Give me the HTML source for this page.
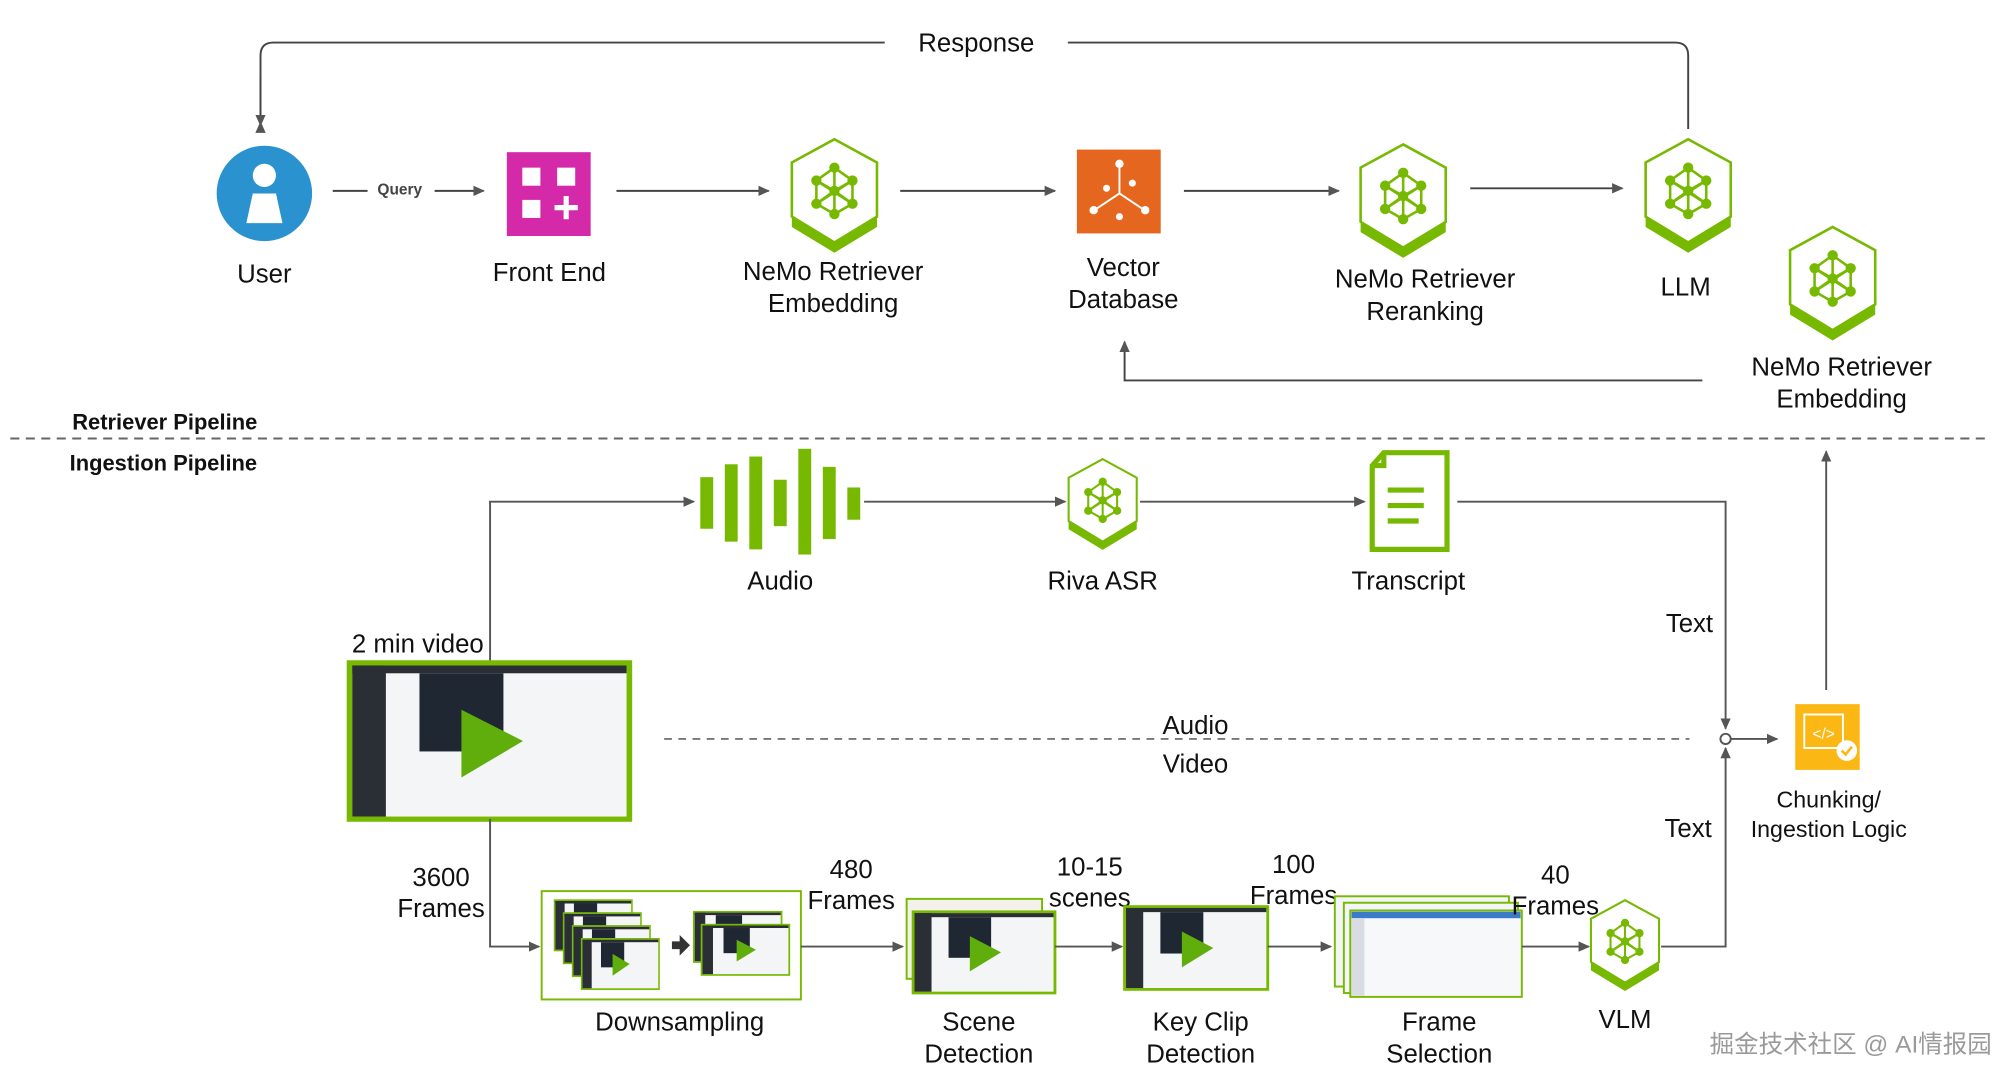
<!DOCTYPE html>
<html><head><meta charset="utf-8"><style>
html,body{margin:0;padding:0;background:#fff;}
svg{display:block;}
text{font-family:"Liberation Sans","Noto Sans CJK SC",sans-serif;fill:#111;}
</style></head><body>
<svg width="1999" height="1074" viewBox="0 0 1550 832.8" preserveAspectRatio="none" xmlns="http://www.w3.org/2000/svg">
<defs>
<marker id="ar" markerWidth="10" markerHeight="10" refX="8" refY="5" orient="auto" markerUnits="userSpaceOnUse">
<path d="M0,1 L9,5 L0,9 Z" fill="#555"/></marker>
<g id="hex">
<path d="M0,-40 L33,-22 L33,20 L0,40 L-33,20 L-33,-22 Z" fill="none" stroke="#76b900" stroke-width="2"/>
<path d="M-33,20 L0,40 L33,20 L33,28 L0,48 L-33,28 Z" fill="#76b900"/>
<g stroke="#76b900" stroke-width="2" fill="none">
<path d="M0,-18 L-14,-8 L-14,10 L0,18 L14,10 L14,-8 Z M0,-18 L0,18 M-14,-8 L14,10 M14,-8 L-14,10 M-14,-8 L0,0 L14,-8 M-14,10 L0,0 L14,10"/>
</g>
<g fill="#76b900"><circle cx="0" cy="-18" r="4"/><circle cx="-14" cy="-8" r="4"/><circle cx="14" cy="-8" r="4"/><circle cx="-14" cy="10" r="4"/><circle cx="14" cy="10" r="4"/><circle cx="0" cy="18" r="4"/><circle cx="0" cy="0" r="4"/></g>
</g>
<g id="thumb">
<rect x="0" y="0" width="100" height="60" fill="#f4f5f6" stroke="#76b900" stroke-width="2"/>
<rect x="1" y="1" width="12" height="58" fill="#2a2f36"/>
<rect x="25" y="4" width="30" height="30" fill="#1f2733"/>
<rect x="1" y="1" width="98" height="3" fill="#2a2f36"/>
<path d="M40,18 L62,30 L40,44 Z" fill="#5fae0c"/>
</g>
</defs>

<!-- Response loop -->
<path d="M202,95 L202,43 Q202,33 212,33 L686,33" fill="none" stroke="#444" stroke-width="1.5" marker-start="url(#ar)"/>
<path d="M202,60 L202,97" stroke="#444" stroke-width="1.5" marker-end="url(#ar)"/>
<path d="M828,33 L1299,33 Q1309,33 1309,43 L1309,100" fill="none" stroke="#444" stroke-width="1.5"/>
<text x="757" y="40" font-size="20" text-anchor="middle">Response</text>

<!-- User -->
<circle cx="205" cy="150" r="37" fill="#2a93cf"/>
<circle cx="205" cy="136" r="9" fill="#fff"/>
<path d="M196,150 L214,150 L219,173 L191,173 Z" fill="#fff"/>
<text x="205" y="219" font-size="20" text-anchor="middle">User</text>
<line x1="258" y1="148" x2="285" y2="148" stroke="#444" stroke-width="1.5"/>
<text x="310" y="151" font-size="12" font-weight="bold" text-anchor="middle" style="fill:#444">Query</text>
<line x1="337" y1="148" x2="375" y2="148" stroke="#444" stroke-width="1.5" marker-end="url(#ar)"/>

<!-- Front End -->
<rect x="393" y="118" width="65" height="65" fill="#d42aa9"/>
<rect x="405" y="130" width="14" height="14" fill="#fff"/><rect x="432" y="130" width="14" height="14" fill="#fff"/>
<rect x="405" y="155" width="14" height="14" fill="#fff"/>
<path d="M439,152 v18 M430,161 h18" stroke="#fff" stroke-width="4"/>
<text x="426" y="218" font-size="20" text-anchor="middle">Front End</text>
<line x1="478" y1="148" x2="596" y2="148" stroke="#444" stroke-width="1.5" marker-end="url(#ar)"/>

<use href="#hex" transform="translate(647,148)"/>
<text x="646" y="217" font-size="20" text-anchor="middle">NeMo Retriever</text>
<text x="646" y="242" font-size="20" text-anchor="middle">Embedding</text>
<line x1="698" y1="148" x2="818" y2="148" stroke="#444" stroke-width="1.5" marker-end="url(#ar)"/>

<!-- Vector DB -->
<rect x="835" y="116" width="65" height="65" fill="#e5661f"/>
<g stroke="#fff" stroke-width="1.5" fill="#fff"><line x1="868" y1="128" x2="868" y2="150"/><line x1="868" y1="150" x2="850" y2="162"/><line x1="868" y1="150" x2="886" y2="162"/>
<circle cx="868" cy="127" r="2.5"/><circle cx="848" cy="163" r="2.5"/><circle cx="888" cy="163" r="2.5"/><circle cx="858" cy="146" r="2"/><circle cx="878" cy="142" r="2"/><circle cx="868" cy="168" r="2"/></g>
<text x="871" y="214" font-size="20" text-anchor="middle">Vector</text>
<text x="871" y="239" font-size="20" text-anchor="middle">Database</text>
<line x1="918" y1="148" x2="1038" y2="148" stroke="#444" stroke-width="1.5" marker-end="url(#ar)"/>

<use href="#hex" transform="translate(1088,152)"/>
<text x="1105" y="223" font-size="20" text-anchor="middle">NeMo Retriever</text>
<text x="1105" y="248" font-size="20" text-anchor="middle">Reranking</text>
<line x1="1140" y1="146" x2="1258" y2="146" stroke="#444" stroke-width="1.5" marker-end="url(#ar)"/>

<use href="#hex" transform="translate(1309,148)"/>
<text x="1307" y="229" font-size="20" text-anchor="middle">LLM</text>

<use href="#hex" transform="translate(1421,216)"/>
<text x="1428" y="291" font-size="20" text-anchor="middle">NeMo Retriever</text>
<text x="1428" y="316" font-size="20" text-anchor="middle">Embedding</text>
<path d="M1320,295 L872,295 L872,265" fill="none" stroke="#444" stroke-width="1.5" marker-end="url(#ar)"/>

<!-- separator -->
<text x="56" y="333" font-size="17" font-weight="bold">Retriever Pipeline</text>
<line x1="8" y1="340" x2="1540" y2="340" stroke="#666" stroke-width="1.5" stroke-dasharray="7,5"/>
<text x="54" y="365" font-size="17" font-weight="bold">Ingestion Pipeline</text>

<!-- audio -->
<g fill="#76b900">
<rect x="543" y="370" width="10" height="40"/><rect x="562" y="360" width="10" height="60"/><rect x="581" y="354" width="10" height="72"/>
<rect x="600" y="372" width="10" height="36"/><rect x="619" y="348" width="10" height="82"/><rect x="638" y="362" width="10" height="56"/><rect x="657" y="378" width="10" height="25"/></g>
<text x="605" y="457" font-size="20" text-anchor="middle">Audio</text>
<path d="M380,514 L380,389 L538,389" fill="none" stroke="#555" stroke-width="1.5" marker-end="url(#ar)"/>
<line x1="670" y1="389" x2="826" y2="389" stroke="#555" stroke-width="1.5" marker-end="url(#ar)"/>
<g transform="translate(855,388) scale(0.8)"><use href="#hex"/></g>
<text x="855" y="457" font-size="20" text-anchor="middle">Riva ASR</text>
<line x1="884" y1="389" x2="1058" y2="389" stroke="#555" stroke-width="1.5" marker-end="url(#ar)"/>
<!-- transcript -->
<path d="M1073,351 L1122,351 L1122,426 L1064,426 L1064,361 Z M1064,361 L1073,361 L1073,351" fill="none" stroke="#76b900" stroke-width="4"/>
<path d="M1076,380 h28 M1076,392 h28 M1076,404 h24" stroke="#76b900" stroke-width="4"/>
<text x="1092" y="457" font-size="20" text-anchor="middle">Transcript</text>
<path d="M1130,389 L1338,389 L1338,565" fill="none" stroke="#555" stroke-width="1.5" marker-end="url(#ar)"/>
<text x="1310" y="490" font-size="20" text-anchor="middle">Text</text>

<!-- video -->
<text x="324" y="506" font-size="20" text-anchor="middle">2 min video</text>
<g transform="translate(271,514) scale(2.17,2.02)"><use href="#thumb"/></g>
<line x1="515" y1="573" x2="1310" y2="573" stroke="#777" stroke-width="1.5" stroke-dasharray="6,5"/>
<text x="927" y="569" font-size="20" text-anchor="middle">Audio</text>
<text x="927" y="599" font-size="20" text-anchor="middle">Video</text>
<circle cx="1338" cy="573" r="4" fill="#fff" stroke="#555" stroke-width="1.5"/>
<line x1="1342" y1="573" x2="1378" y2="573" stroke="#555" stroke-width="1.5" marker-end="url(#ar)"/>
<rect x="1392" y="546" width="50" height="51" fill="#fbb714"/>
<rect x="1399" y="554" width="30" height="26" fill="none" stroke="#fff" stroke-width="1.5"/>
<text x="1414" y="573" font-size="12" text-anchor="middle" style="fill:#fff">&lt;/&gt;</text>
<circle cx="1432" cy="582" r="8" fill="#fff"/><path d="M1428,582 l3,3 l5,-6" stroke="#fbb714" stroke-width="2" fill="none"/>
<text x="1418" y="626" font-size="18" text-anchor="middle">Chunking/</text>
<text x="1418" y="649" font-size="18" text-anchor="middle">Ingestion Logic</text>
<line x1="1416" y1="535" x2="1416" y2="350" stroke="#555" stroke-width="1.5" marker-end="url(#ar)"/>

<!-- video pipeline -->
<path d="M380,635 L380,734 L418,734" fill="none" stroke="#555" stroke-width="1.5" marker-end="url(#ar)"/>
<text x="342" y="687" font-size="20" text-anchor="middle">3600</text>
<text x="342" y="711" font-size="20" text-anchor="middle">Frames</text>
<rect x="420" y="691" width="201" height="84" fill="#fff" stroke="#76b900" stroke-width="1.5"/>
<g transform="translate(430,698) scale(0.6,0.65)"><use href="#thumb"/></g>
<g transform="translate(437,708) scale(0.6,0.65)"><use href="#thumb"/></g>
<g transform="translate(444,718) scale(0.6,0.65)"><use href="#thumb"/></g>
<g transform="translate(451,728) scale(0.6,0.65)"><use href="#thumb"/></g>
<path d="M521,730 h6 v-5 l8,8 l-8,8 v-5 h-6 Z" fill="#333"/>
<g transform="translate(538,707) scale(0.68,0.65)"><use href="#thumb"/></g>
<g transform="translate(544,717) scale(0.68,0.65)"><use href="#thumb"/></g>
<text x="527" y="799" font-size="20" text-anchor="middle">Downsampling</text>
<line x1="621" y1="734" x2="700" y2="734" stroke="#555" stroke-width="1.5" marker-end="url(#ar)"/>
<text x="660" y="681" font-size="20" text-anchor="middle">480</text>
<text x="660" y="705" font-size="20" text-anchor="middle">Frames</text>
<rect x="703" y="697" width="105" height="62" fill="#f4f1ea" stroke="#76b900" stroke-width="1.5"/>
<g transform="translate(708,707) scale(1.1,1.05)"><use href="#thumb"/></g>
<text x="759" y="799" font-size="20" text-anchor="middle">Scene</text>
<text x="759" y="824" font-size="20" text-anchor="middle">Detection</text>
<line x1="818" y1="734" x2="870" y2="734" stroke="#555" stroke-width="1.5" marker-end="url(#ar)"/>
<text x="845" y="679" font-size="20" text-anchor="middle">10-15</text>
<text x="845" y="703" font-size="20" text-anchor="middle">scenes</text>
<g transform="translate(872,703) scale(1.11,1.07)"><use href="#thumb"/></g>
<text x="931" y="799" font-size="20" text-anchor="middle">Key Clip</text>
<text x="931" y="824" font-size="20" text-anchor="middle">Detection</text>
<line x1="983" y1="734" x2="1032" y2="734" stroke="#555" stroke-width="1.5" marker-end="url(#ar)"/>
<text x="1003" y="677" font-size="20" text-anchor="middle">100</text>
<text x="1003" y="701" font-size="20" text-anchor="middle">Frames</text>
<rect x="1035" y="695" width="135" height="70" fill="#f3f5f8" stroke="#76b900" stroke-width="1.5"/>
<rect x="1042" y="700" width="135" height="70" fill="#f3f5f8" stroke="#76b900" stroke-width="1.5"/>
<rect x="1047" y="706" width="133" height="67" fill="#f7f8fa" stroke="#76b900" stroke-width="1.5"/>
<rect x="1048" y="707" width="131" height="5" fill="#3b7bc8"/>
<rect x="1048" y="712" width="10" height="60" fill="#d9dde3"/>
<text x="1116" y="799" font-size="20" text-anchor="middle">Frame</text>
<text x="1116" y="824" font-size="20" text-anchor="middle">Selection</text>
<line x1="1180" y1="734" x2="1232" y2="734" stroke="#555" stroke-width="1.5" marker-end="url(#ar)"/>
<text x="1206" y="685" font-size="20" text-anchor="middle">40</text>
<text x="1206" y="709" font-size="20" text-anchor="middle">Frames</text>
<g transform="translate(1260,730) scale(0.8)"><use href="#hex"/></g>
<text x="1260" y="797" font-size="20" text-anchor="middle">VLM</text>
<path d="M1288,734 L1338,734 L1338,580" fill="none" stroke="#555" stroke-width="1.5" marker-end="url(#ar)"/>
<text x="1309" y="649" font-size="20" text-anchor="middle">Text</text>

<text x="1435" y="816" font-size="19" text-anchor="middle" style="fill:#9a9a9a">掘金技术社区 @ AI情报园</text>
</svg>
</body></html>
